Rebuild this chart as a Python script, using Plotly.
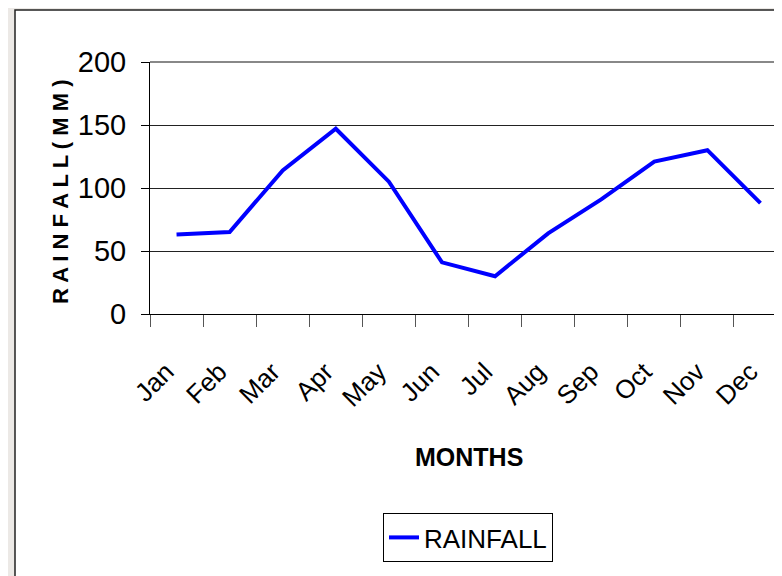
import plotly.graph_objects as go

months = ["Jan", "Feb", "Mar", "Apr", "May", "Jun", "Jul", "Aug", "Sep", "Oct", "Nov", "Dec"]
rainfall = [63, 65, 114, 147, 105, 41, 30, 64, 91, 121, 130, 88]
y_ticks = [0, 50, 100, 150, 200]

W, H = 782, 576
OFF = 8  # page body offset
L, R, T = 150 - OFF, 0, 62 - OFF
B = H - (314 - OFF)
pw = W - L - R
ph = H - T - B
cat_px = (787 - 150) / 12.0

FONT = "Liberation Sans, Arial, sans-serif"

fig = go.Figure()
fig.add_trace(go.Scatter(
    x=months, y=rainfall, mode="lines", name="RAINFALL",
    line=dict(color="#0000ff", width=4),
))

def px_x(x):
    return (x - OFF - L) / pw

def px_y(y):
    return (H - B - (y - OFF)) / ph

fig.update_layout(
    width=W, height=H,
    margin=dict(l=L, r=R, t=T, b=B, pad=0),
    paper_bgcolor="#ece9e6",
    plot_bgcolor="white",
    font=dict(family=FONT, color="black"),
    showlegend=True,
    legend=dict(
        x=px_x(383), y=px_y(513), xanchor="left", yanchor="top",
        bordercolor="black", borderwidth=1, bgcolor="white",
        font=dict(size=26, family=FONT),
    ),
    xaxis=dict(
        type="category",
        range=[-0.5, -0.5 + pw / cat_px],
        tickson="boundaries",
        tickmode="array",
        tickvals=months,
        ticktext=[m + "\u00a0\u00a0" for m in months],
        ticks="outside", ticklen=12, tickcolor="#555",
        tickangle=-45,
        tickfont=dict(size=26, family=FONT),
        ticklabelstandoff=21,
        showline=True, linecolor="black", linewidth=1,
        showgrid=False,
    ),
    yaxis=dict(
        range=[0, 200],
        tickvals=y_ticks,
        ticks="outside", ticklen=8, tickcolor="black",
        tickfont=dict(size=29, family=FONT),
        ticklabelstandoff=9,
        showline=True, linecolor="black", linewidth=1,
        showgrid=True, gridcolor="#222", gridwidth=1,
        zeroline=False,
    ),
    shapes=[
        dict(type="rect", xref="paper", yref="paper",
             x0=px_x(15), x1=1.3, y0=-2, y1=px_y(10),
             fillcolor="white", line=dict(color="#222", width=1.5), layer="below"),
        dict(type="line", xref="paper", yref="paper",
             x0=0, x1=1, y0=1, y1=1,
             line=dict(color="#888", width=2)),
    ],
    annotations=[
        dict(text="<b>MONTHS</b>", xref="paper", yref="paper",
             x=px_x(469), y=px_y(457), xanchor="center", yanchor="middle",
             showarrow=False, font=dict(size=25, family=FONT)),
        dict(text="<b>R A I N F A L L ( M M )</b>", xref="paper", yref="paper",
             x=px_x(60), y=px_y(192), xanchor="center", yanchor="middle",
             textangle=-90, showarrow=False, font=dict(size=22, family=FONT)),
    ],
)

fig.write_html("out.html")
